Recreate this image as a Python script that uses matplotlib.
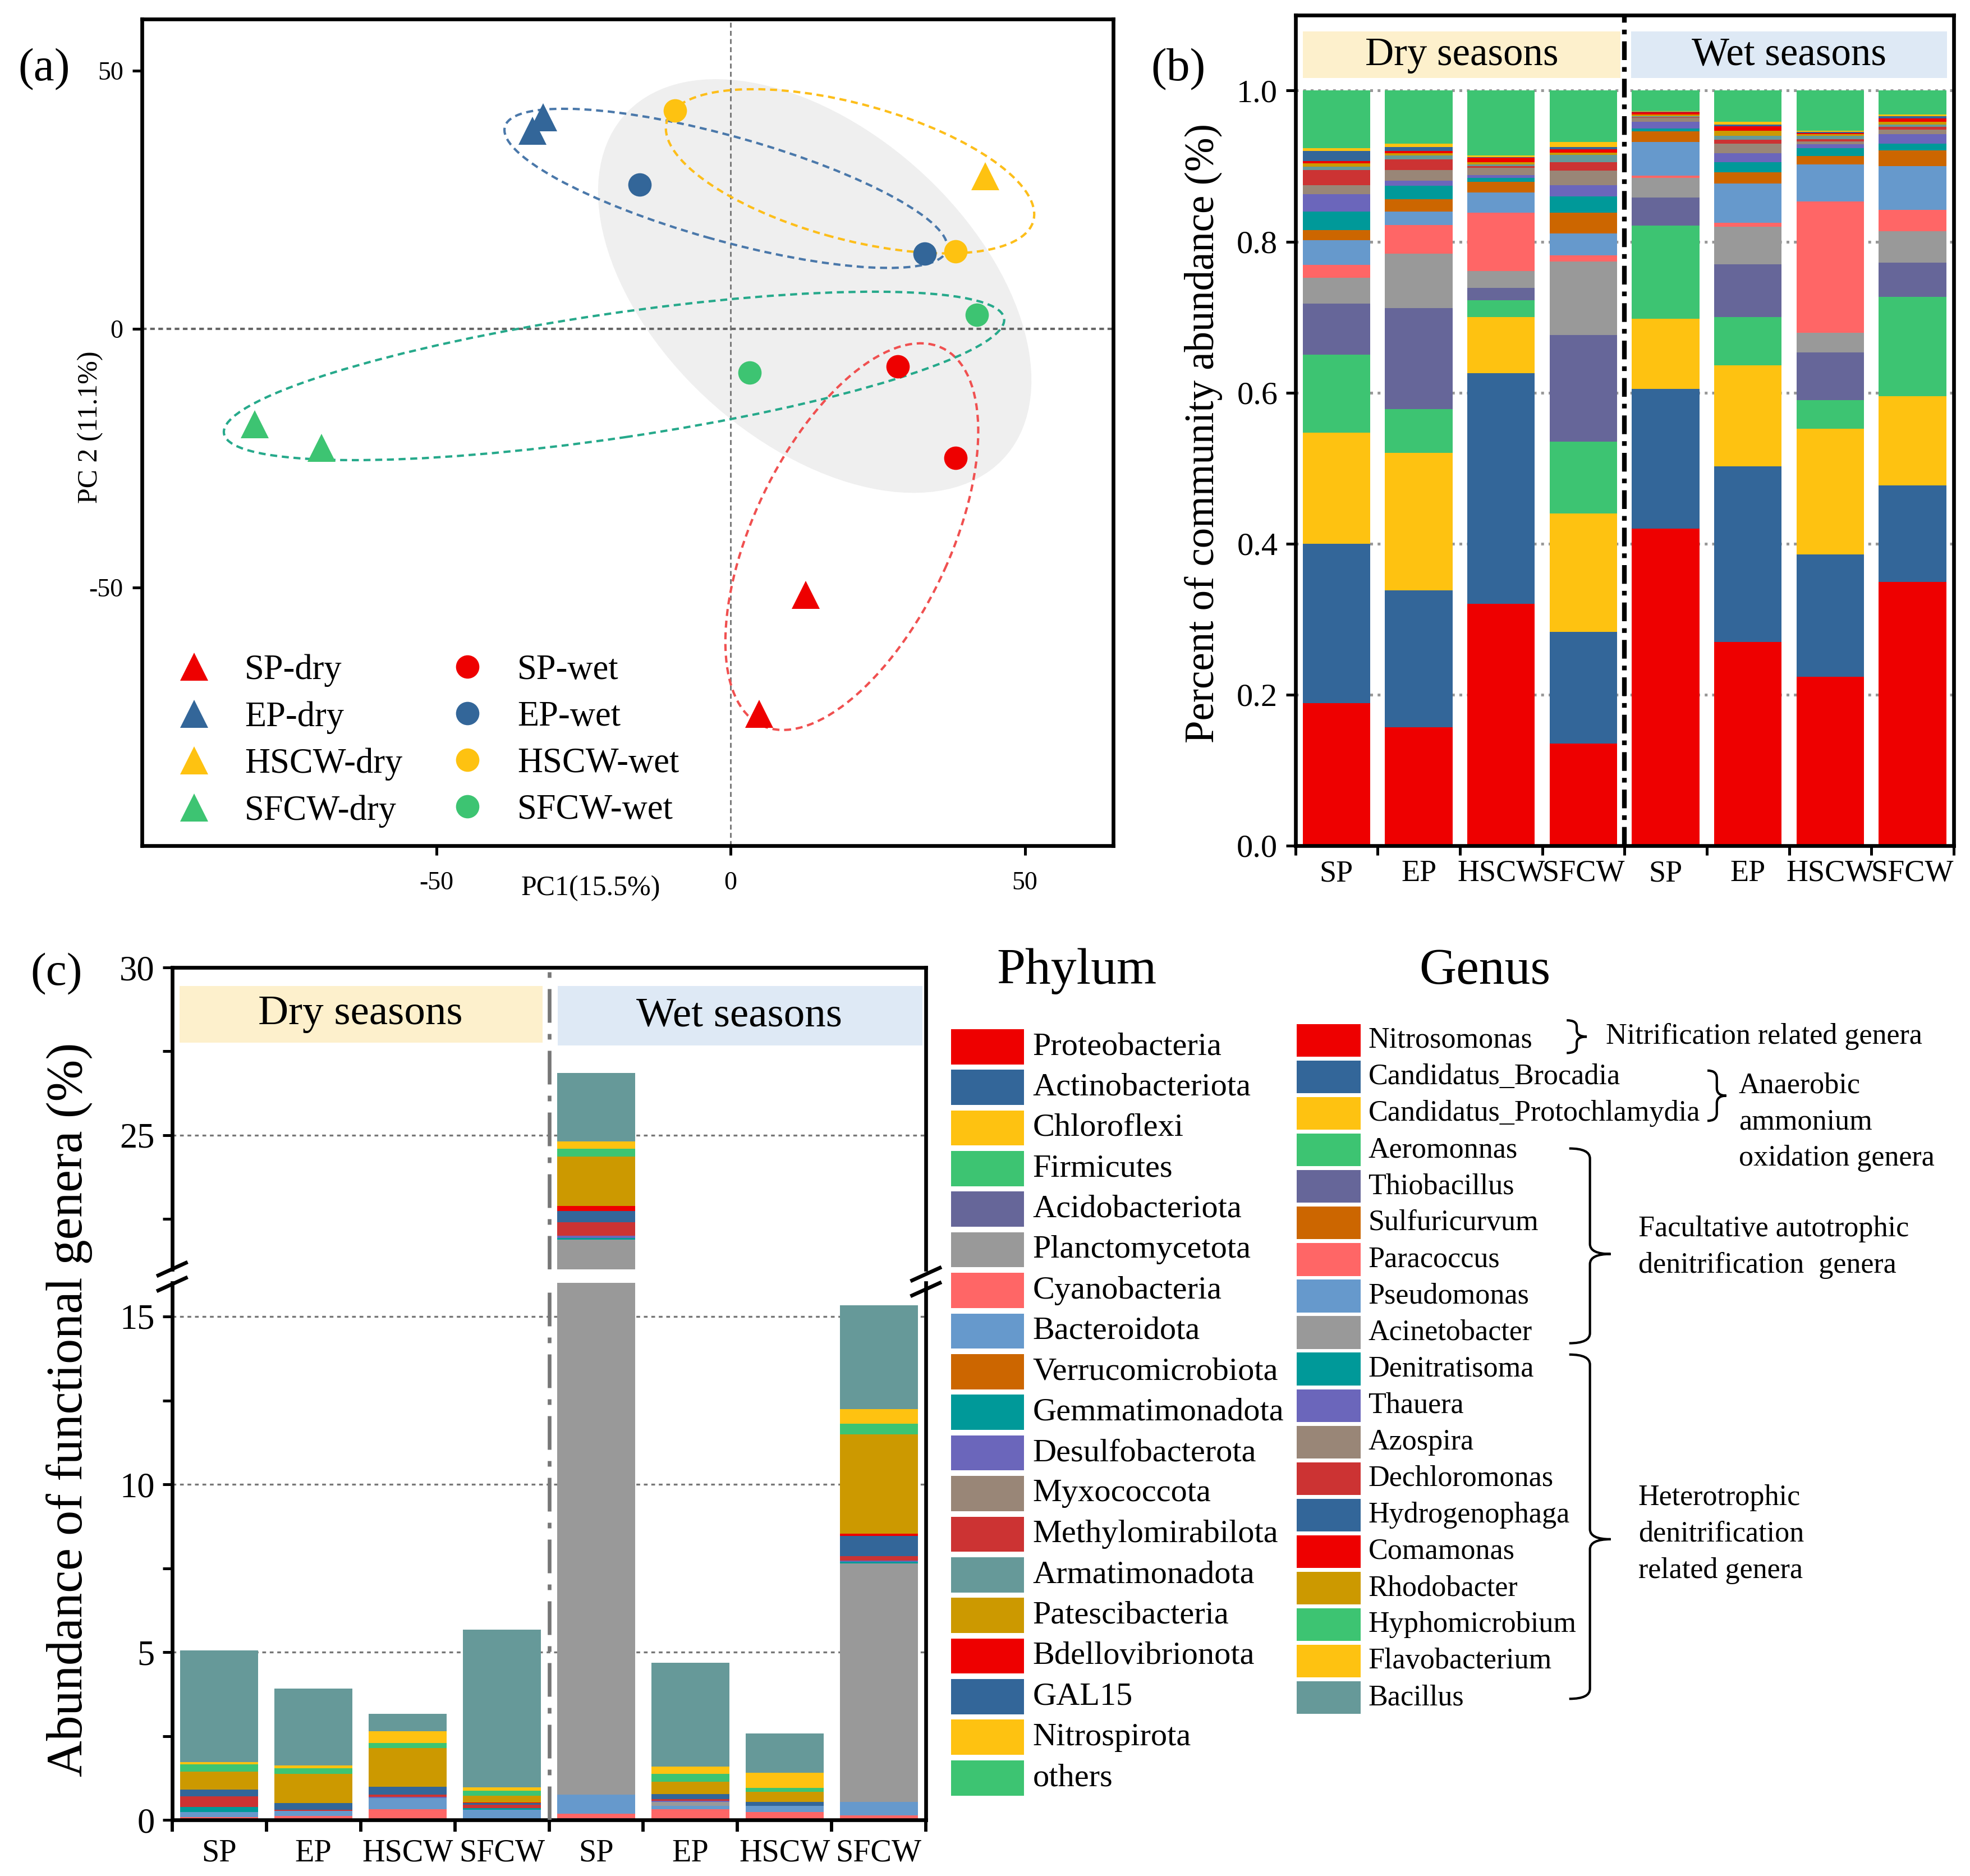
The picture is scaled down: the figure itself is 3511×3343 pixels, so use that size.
import numpy as np
import matplotlib
matplotlib.use('Agg')
import matplotlib.pyplot as plt
from matplotlib.patches import Ellipse, Rectangle, PathPatch
from matplotlib.path import Path

plt.rcParams['font.family'] = ['Liberation Serif', 'DejaVu Serif']
plt.rcParams['axes.unicode_minus'] = False

# ---------------- data ----------------
# (a) PCoA scores per group
groups = ['SP-dry', 'EP-dry', 'HSCW-dry', 'SFCW-dry', 'SP-wet', 'EP-wet', 'HSCW-wet', 'SFCW-wet']
pc1 = [[12.8, 4.9], [-31.8, -33.7], [43.3], [-80.8, -69.5],
       [28.4, 38.2], [-15.4, 33.0], [-9.4, 38.2], [3.2, 41.8]]
pc2 = [[-51.5, -74.5], [41.0, 38.3], [29.6], [-18.4, -23.0],
       [-7.3, -25.0], [27.9, 14.6], [42.2, 15.0], [-8.5, 2.7]]

# dashed ellipses for SP, EP, HSCW, SFCW and the shaded wet-season ellipse
ell_x = [20.6, -0.8, 20.3, -19.8]
ell_y = [-40.2, 27.2, 30.5, -9.1]
ell_w = [79.3, 78.8, 65.2, 134.4]
ell_h = [34.0, 20.0, 26.0, 24.0]
ell_ang = [68.5, -17.9, -17.8, 9.6]
shade_xy = (14.3, 8.3)
shade_wh = (93.0, 56.4)
shade_ang = -50.2

# (b) phylum relative abundance, bottom to top
sites = ['SP', 'EP', 'HSCW', 'SFCW', 'SP', 'EP', 'HSCW', 'SFCW']
phyla = ['Proteobacteria', 'Actinobacteriota', 'Chloroflexi', 'Firmicutes', 'Acidobacteriota',
         'Planctomycetota', 'Cyanobacteria', 'Bacteroidota', 'Verrucomicrobiota', 'Gemmatimonadota',
         'Desulfobacterota', 'Myxococcota', 'Methylomirabilota', 'Armatimonadota', 'Patescibacteria',
         'Bdellovibrionota', 'GAL15', 'Nitrospirota', 'others']
p_sp_dry = [0.189, 0.211, 0.147, 0.103, 0.068, 0.034, 0.017, 0.033, 0.013, 0.025,
            0.023, 0.012, 0.020, 0.004, 0.005, 0.003, 0.013, 0.004, 0.076]
p_ep_dry = [0.157, 0.181, 0.182, 0.058, 0.134, 0.072, 0.038, 0.018, 0.016, 0.018,
            0.007, 0.014, 0.014, 0.005, 0.003, 0.003, 0.005, 0.005, 0.070]
p_hscw_dry = [0.320, 0.306, 0.074, 0.022, 0.017, 0.022, 0.077, 0.027, 0.014, 0.005,
              0.004, 0.010, 0.002, 0.002, 0.003, 0.006, 0.001, 0.002, 0.086]
p_sfcw_dry = [0.135, 0.148, 0.157, 0.095, 0.141, 0.098, 0.008, 0.029, 0.027, 0.022,
              0.015, 0.019, 0.011, 0.010, 0.003, 0.004, 0.003, 0.007, 0.068]
p_sp_wet = [0.420, 0.185, 0.093, 0.123, 0.037, 0.026, 0.003, 0.045, 0.014, 0.004,
            0.009, 0.005, 0.001, 0.001, 0.002, 0.003, 0.001, 0.001, 0.027]
p_ep_wet = [0.270, 0.232, 0.134, 0.064, 0.070, 0.050, 0.005, 0.052, 0.015, 0.013,
            0.012, 0.013, 0.005, 0.005, 0.007, 0.006, 0.002, 0.004, 0.041]
p_hscw_wet = [0.224, 0.162, 0.166, 0.038, 0.063, 0.026, 0.174, 0.049, 0.011, 0.011,
              0.005, 0.004, 0.003, 0.004, 0.002, 0.002, 0.001, 0.002, 0.053]
p_sfcw_wet = [0.349, 0.128, 0.118, 0.132, 0.045, 0.042, 0.028, 0.058, 0.021, 0.009,
              0.012, 0.006, 0.004, 0.003, 0.004, 0.004, 0.003, 0.002, 0.032]

# (c) functional genera abundance (%), bottom to top
genera = ['Nitrosomonas', 'Candidatus_Brocadia', 'Candidatus_Protochlamydia', 'Aeromonnas',
          'Thiobacillus', 'Sulfuricurvum', 'Paracoccus', 'Pseudomonas', 'Acinetobacter',
          'Denitratisoma', 'Thauera', 'Azospira', 'Dechloromonas', 'Hydrogenophaga',
          'Comamonas', 'Rhodobacter', 'Hyphomicrobium', 'Flavobacterium', 'Bacillus']
g_sp_dry = [0, 0, 0, 0, 0, 0, 0.095, 0.145, 0, 0.15, 0, 0, 0.31, 0.21, 0, 0.53, 0.22, 0.07, 3.33]
g_ep_dry = [0, 0, 0, 0, 0.045, 0, 0.075, 0.15, 0, 0, 0, 0, 0.04, 0.19, 0, 0.87, 0.18, 0.07, 2.30]
g_hscw_dry = [0, 0, 0, 0, 0.045, 0, 0.275, 0.33, 0, 0, 0.04, 0, 0.07, 0.23, 0, 1.16, 0.15, 0.34, 0.52]
g_sfcw_dry = [0, 0, 0, 0, 0.045, 0, 0, 0.265, 0, 0.04, 0, 0, 0.11, 0.04, 0.03, 0.19, 0.16, 0.10, 4.69]
g_sp_wet = [0, 0, 0, 0, 0.056, 0, 0.14, 0.57, 21.12, 0.04, 0.07, 0, 0.40, 0.33, 0.15, 1.49, 0.22, 0.23, 2.03]
g_ep_wet = [0, 0, 0, 0, 0, 0, 0.32, 0.11, 0.11, 0, 0.035, 0, 0.045, 0.15, 0, 0.37, 0.23, 0.22, 3.10]
g_hscw_wet = [0, 0, 0, 0, 0, 0, 0.235, 0.195, 0, 0, 0, 0, 0, 0.11, 0, 0.30, 0.12, 0.45, 1.17]
g_sfcw_wet = [0, 0, 0, 0, 0, 0, 0.14, 0.40, 7.11, 0.04, 0.04, 0, 0.13, 0.60, 0.07, 2.96, 0.31, 0.44, 3.09]

# ---------------- colours ----------------
RED, BLUE, YEL, GRN = '#EE0000', '#336699', '#FEC211', '#3DC472'
PGR, GRY, SAL, LBL = '#666699', '#999999', '#FF6666', '#6699CC'
ORG, TEAL, PUR, BRN = '#CC6600', '#009999', '#6B66BB', '#998677'
DRD, GTL, GOLD = '#CC3333', '#669999', '#CC9900'
phylum_colors = [RED, BLUE, YEL, GRN, PGR, GRY, SAL, LBL, ORG, TEAL, PUR, BRN, DRD, GTL, GOLD,
                 RED, BLUE, YEL, GRN]
genus_colors = [RED, BLUE, YEL, GRN, PGR, ORG, SAL, LBL, GRY, TEAL, PUR, BRN, DRD, BLUE, RED,
                GOLD, GRN, YEL, GTL]
group_colors = [RED, BLUE, YEL, GRN] * 2
ell_colors = ['#F05050', '#4A78AA', '#FDBE1A', '#26A98B']
DRY_BG, WET_BG = '#FDF0CC', '#DEE9F5'

W, H = 1568, 1493  # reference layout grid used for placement
fig = plt.figure(figsize=(3511 / 300, 3343 / 300), dpi=300)


def frac(x0, y0, x1, y1):
    return [x0 / W, 1 - y1 / H, (x1 - x0) / W, (y1 - y0) / H]


# ---------------- (a) PCoA ----------------
ax = fig.add_axes(frac(113, 15, 886, 673))
ax.add_patch(Ellipse(shade_xy, shade_wh[0], shade_wh[1], angle=shade_ang,
                     facecolor='#EFEFEF', edgecolor='none', zorder=0))
ax.axvline(0, color='#777777', lw=0.7, ls=(0, (3, 2)), zorder=1)
ax.axhline(0, color='#666666', lw=1.0, ls=(0, (2, 1.5)), zorder=1)
for i in range(4):
    ax.add_patch(Ellipse((ell_x[i], ell_y[i]), ell_w[i], ell_h[i], angle=ell_ang[i],
                         fill=False, edgecolor=ell_colors[i], lw=1.0, ls=(0, (3, 2)), zorder=2))
for i, g in enumerate(groups):
    if i < 4:
        ax.plot(pc1[i], pc2[i], ls='none', marker='^', ms=12, color=group_colors[i],
                mec='none', label=g, zorder=3)
    else:
        ax.plot(pc1[i], pc2[i], ls='none', marker='o', ms=10, color=group_colors[i],
                mec='none', label=g, zorder=3)
ax.set_xlim(-100, 65)
ax.set_ylim(-100, 60)
ax.set_xticks([-50, 0, 50])
ax.set_yticks([-50, 0, 50])
ax.tick_params(labelsize=11, direction='out', length=4, width=1.2)
ax.tick_params(axis='x', pad=7)
ax.tick_params(axis='y', pad=4)
for s in ax.spines.values():
    s.set_linewidth(1.6)
ax.legend(ncol=2, loc='lower left', bbox_to_anchor=(0.007, -0.012), frameon=False, fontsize=15,
          handlelength=1.0, handletextpad=0.93, columnspacing=1.35, labelspacing=0.4,
          borderaxespad=0.4)

# ---------------- (b) phylum stacked bars ----------------
xb = np.arange(8)
phylum_mat = np.array([p_sp_dry, p_ep_dry, p_hscw_dry, p_sfcw_dry,
                       p_sp_wet, p_ep_wet, p_hscw_wet, p_sfcw_wet])
axb = fig.add_axes(frac(1031, 12, 1555, 673))
bottom = np.zeros(8)
for j in range(len(phyla)):
    axb.bar(xb, phylum_mat[:, j], bottom=bottom, width=0.82, color=phylum_colors[j],
            linewidth=0, zorder=2)
    bottom += phylum_mat[:, j]
axb.set_xlim(-0.5, 7.5)
axb.set_ylim(0, 1.1)
axb.set_yticks(np.arange(0, 1.01, 0.2))
axb.set_yticklabels(['%.1f' % v for v in np.arange(0, 1.01, 0.2)])
axb.yaxis.grid(True, ls=':', color='#999999', lw=1.2)
axb.set_axisbelow(True)
axb.set_xticks(np.arange(-0.5, 8, 1))
axb.set_xticklabels([])
axb.set_xticks(xb, minor=True)
axb.set_xticklabels(sites, minor=True, fontsize=13)
axb.tick_params(axis='x', which='minor', length=0, pad=6)
axb.tick_params(axis='both', which='major', direction='out', length=4, width=1.2, labelsize=14)
axb.axvline(3.5, color='black', lw=2, ls=(0, (4, 1.5, 1, 1.5)), zorder=3)
axb.add_patch(Rectangle((-0.41, 1.017), 3.86, 0.061, color=DRY_BG, lw=0, zorder=2))
axb.add_patch(Rectangle((3.58, 1.017), 3.84, 0.061, color=WET_BG, lw=0, zorder=2))
axb.text(1.52, 1.047, 'Dry seasons', fontsize=17, ha='center', va='center', zorder=4)
axb.text(5.5, 1.047, 'Wet seasons', fontsize=17, ha='center', va='center', zorder=4)
for s in axb.spines.values():
    s.set_linewidth(1.6)

# ---------------- (c) functional genera, broken y axis ----------------
genus_mat = np.array([g_sp_dry, g_ep_dry, g_hscw_dry, g_sfcw_dry,
                      g_sp_wet, g_ep_wet, g_hscw_wet, g_sfcw_wet])
axt = fig.add_axes(frac(137, 770, 737, 1010))
axl = fig.add_axes(frac(137, 1021, 737, 1448.5))
for a in (axt, axl):
    bottom = np.zeros(8)
    for j in range(len(genera)):
        a.bar(xb, genus_mat[:, j], bottom=bottom, width=0.83, color=genus_colors[j],
              linewidth=0, zorder=2)
        bottom += genus_mat[:, j]
    a.set_xlim(-0.5, 7.5)
    a.yaxis.grid(True, ls=(0, (2, 2)), color='#777777', lw=0.8)
    a.set_axisbelow(True)
    a.axvline(3.5, color='#777777', lw=1.6, ls=(0, (9, 3, 1.5, 3)), zorder=3)
    a.tick_params(axis='y', which='both', direction='out', length=4, width=1.2, labelsize=15)
    for s in a.spines.values():
        s.set_linewidth(1.6)

axt.set_ylim(21, 30)
axt.set_yticks([25, 30])
axt.set_yticks([22.5, 27.5], minor=True)
axt.spines['bottom'].set_visible(False)
axt.set_xticks([])
axt.add_patch(Rectangle((-0.42, 27.75), 3.85, 1.7, color=DRY_BG, lw=0, zorder=2))
axt.add_patch(Rectangle((3.59, 27.68), 3.87, 1.77, color=WET_BG, lw=0, zorder=2))
axt.text(1.5, 28.6, 'Dry seasons', fontsize=18, ha='center', va='center', zorder=4)
axt.text(5.52, 28.55, 'Wet seasons', fontsize=18, ha='center', va='center', zorder=4)

axl.set_ylim(0, 16)
axl.set_yticks([0, 5, 10, 15])
axl.set_yticks([2.5, 7.5, 12.5], minor=True)
axl.spines['top'].set_visible(False)
axl.set_xticks(np.arange(-0.5, 8, 1))
axl.set_xticklabels([])
axl.set_xticks(xb, minor=True)
axl.set_xticklabels(sites, minor=True, fontsize=13.5)
axl.tick_params(axis='x', which='minor', length=0, pad=8)
axl.tick_params(axis='x', which='major', direction='out', length=5, width=1.4)

# ---------------- overlay: labels, legends, braces ----------------
ov = fig.add_axes([0, 0, 1, 1], zorder=10)
ov.set_xlim(0, W)
ov.set_ylim(H, 0)
ov.axis('off')

ov.text(35, 55, '(a)', fontsize=20, ha='center', va='center')
ov.text(938, 55, '(b)', fontsize=20, ha='center', va='center')
ov.text(45, 775, '(c)', fontsize=20, ha='center', va='center')
ov.text(470, 707, 'PC1(15.5%)', fontsize=12, ha='center', va='center')
ov.text(72, 340, 'PC 2 (11.1%)', fontsize=12, ha='center', va='center', rotation=90)
ov.text(958, 345, 'Percent of community abundance (%)', fontsize=17.5,
        ha='center', va='center', rotation=90)
ov.text(55, 1122, 'Abundance of functional genera (%)', fontsize=21.5,
        ha='center', va='center', rotation=90)

# break marks
for bx, by in [(137, 1010), (137, 1022), (737, 1014), (737, 1026)]:
    ov.plot([bx - 11, bx + 11], [by + 5, by - 5], color='black', lw=1.6)

# phylum legend
ov.text(857, 773, 'Phylum', fontsize=22, ha='center', va='center')
for i, name in enumerate(phyla):
    y = 833 + 32.33 * i
    ov.add_patch(Rectangle((757, y - 14), 58, 28, color=phylum_colors[i], lw=0))
    ov.text(822, y, name, fontsize=14, ha='left', va='center')

# genus legend
ov.text(1182, 773, 'Genus', fontsize=22, ha='center', va='center')
for i, name in enumerate(genera):
    y = 828 + 29.06 * i
    ov.add_patch(Rectangle((1032, y - 13), 51, 26, color=genus_colors[i], lw=0))
    ov.text(1089, y, name, fontsize=12.5, ha='left', va='center')


def brace(x0, x1, ytop, ybot, ymid, r):
    xm = (x0 + x1) / 2
    verts = [(x0, ytop), (xm, ytop), (xm, ytop + r),
             (xm, ymid - r), (xm, ymid), (x1, ymid),
             (xm, ymid), (xm, ymid + r),
             (xm, ybot - r), (xm, ybot), (x0, ybot)]
    codes = [Path.MOVETO, Path.CURVE3, Path.CURVE3, Path.LINETO, Path.CURVE3, Path.CURVE3,
             Path.CURVE3, Path.CURVE3, Path.LINETO, Path.CURVE3, Path.CURVE3]
    ov.add_patch(PathPatch(Path(verts, codes), fill=False, lw=1.0, color='black'))


brace(1247, 1263, 812, 838, 825, 5)
brace(1359, 1374, 852, 892, 872, 6)
brace(1249, 1282, 914, 1069, 998, 8)
brace(1249, 1282, 1078, 1352, 1225, 8)

ov.text(1278, 825, 'Nitrification related genera', fontsize=12.5, ha='left', va='center')
ov.text(1384, 864, 'Anaerobic', fontsize=12.5, ha='left', va='center')
ov.text(1384, 893, 'ammonium', fontsize=12.5, ha='left', va='center')
ov.text(1384, 922, 'oxidation genera', fontsize=12.5, ha='left', va='center')
ov.text(1304, 978, 'Facultative autotrophic', fontsize=12.5, ha='left', va='center')
ov.text(1304, 1007, 'denitrification  genera', fontsize=12.5, ha='left', va='center')
ov.text(1304, 1192, 'Heterotrophic', fontsize=12.5, ha='left', va='center')
ov.text(1304, 1221, 'denitrification', fontsize=12.5, ha='left', va='center')
ov.text(1304, 1250, 'related genera', fontsize=12.5, ha='left', va='center')

fig.savefig('out.png', dpi=300)
